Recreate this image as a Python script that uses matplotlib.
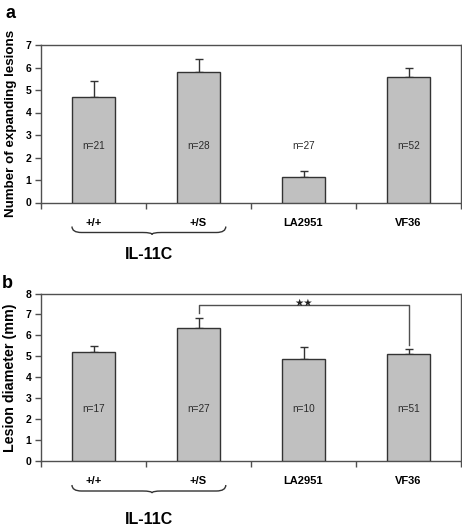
import matplotlib
matplotlib.use("Agg")
import matplotlib.pyplot as plt
from matplotlib.path import Path
from matplotlib.patches import PathPatch
from matplotlib.transforms import blended_transform_factory

plt.rcParams['font.family'] = ['Liberation Sans', 'DejaVu Sans']

categories = ["+/+", "+/S", "LA2951", "VF36"]
group_label = "IL-11C"

# Panel a
a_values = [4.68, 5.82, 1.12, 5.57]
a_err = [0.74, 0.55, 0.30, 0.39]
a_n = ["n=21", "n=28", "n=27", "n=52"]

# Panel b
b_values = [5.20, 6.36, 4.88, 5.09]
b_err = [0.31, 0.48, 0.58, 0.27]
b_n = ["n=17", "n=27", "n=10", "n=51"]

W, H = 462, 528
fig = plt.figure(figsize=(W / 100, H / 100), dpi=100)

spine_c = '#505050'
bar_fill = '#c0c0c0'
bar_edge = '#333333'


def panel(rect, values, err, nlabels, ymax, ylabel, ylabel_size):
    ax = fig.add_axes(rect)
    x = list(range(len(categories)))
    ax.bar(x, values, width=0.41, color=bar_fill, edgecolor=bar_edge,
           linewidth=1.0, zorder=3)
    ax.errorbar(x, values, yerr=[[0] * len(err), err], fmt='none',
                ecolor=bar_edge, elinewidth=1.0, capsize=3.0, capthick=1.0,
                zorder=2)
    for xi, t in zip(x, nlabels):
        ax.text(xi, 2.5, t, ha='center', va='center', fontsize=7.2,
                color='#2a2a2a', zorder=4)
    ax.set_xlim(-0.5, len(categories) - 0.5)
    ax.set_ylim(0, ymax)
    ax.set_yticks(range(0, ymax + 1))
    ax.set_xticks(x)
    ax.set_xticklabels(categories, fontsize=8, fontweight='bold')
    ax.set_xticks([i - 0.5 for i in range(len(categories) + 1)], minor=True)
    ax.tick_params(axis='x', which='major', length=0, pad=11)
    ax.tick_params(axis='x', which='minor', length=4, width=1,
                   color=spine_c, direction='out')
    ax.tick_params(axis='y', length=4, width=1, color=spine_c, pad=3,
                   labelsize=7.5)
    for lbl in ax.get_yticklabels():
        lbl.set_fontweight('bold')
    for s in ax.spines.values():
        s.set_color(spine_c)
        s.set_linewidth(1.0)
    ax.set_ylabel(ylabel, fontsize=ylabel_size, fontweight='bold', labelpad=6)
    return ax


def brace(ax, x0, x1, top_px, depth_px):
    h = ax.bbox.height
    y_top = -top_px / h
    y_mid = -(top_px + depth_px * 0.75) / h
    y_bot = -(top_px + depth_px) / h
    xc = (x0 + x1) / 2 + 0.03
    q = 0.09
    verts = [(x0, y_top), (x0, y_mid), (x0 + q, y_mid),
             (xc - q, y_mid),
             (xc, y_mid), (xc, y_bot),
             (xc, y_mid), (xc + q, y_mid),
             (x1 - q, y_mid),
             (x1, y_mid), (x1, y_top)]
    codes = [Path.MOVETO, Path.CURVE3, Path.CURVE3,
             Path.LINETO,
             Path.CURVE3, Path.CURVE3,
             Path.CURVE3, Path.CURVE3,
             Path.LINETO,
             Path.CURVE3, Path.CURVE3]
    tr = blended_transform_factory(ax.transData, ax.transAxes)
    p = PathPatch(Path(verts, codes), facecolor='none', edgecolor='#333333',
                  lw=1.0, transform=tr, clip_on=False)
    ax.add_patch(p)
    return tr


# layout in figure fractions
left = 41 / W
width = 420 / W
ax_a = panel([left, 1 - 202.5 / H, width, 157.5 / H], a_values, a_err, a_n,
             7, "Number of expanding lesions", 9.6)
ax_b = panel([left, 1 - 461 / H, width, 167.5 / H], b_values, b_err, b_n,
             8, "Lesion diameter (mm)", 10.3)

for ax, gy in [(ax_a, 52), (ax_b, 58)]:
    tr = brace(ax, -0.205, 1.26, 24, 8)
    ax.text(0.53, -gy / ax.bbox.height, group_label, transform=tr,
            ha='center', va='center', fontsize=11.5, fontweight='bold',
            clip_on=False)

# significance bracket in panel b
ax_b.plot([1, 1, 3, 3], [7.05, 7.45, 7.45, 5.56], color=spine_c, lw=1.0,
          zorder=4)
ax_b.text(2, 7.57, "\u2605\u2605", ha='center', va='center', fontsize=7.5,
          family='DejaVu Sans', color='#222222', zorder=5)

fig.text(11 / W, 1 - 13 / H, "a", ha='center', va='center', fontsize=13,
         fontweight='bold')
fig.text(7 / W, 1 - 283 / H, "b", ha='center', va='center', fontsize=13,
         fontweight='bold')

fig.savefig("out.png", dpi=100)
